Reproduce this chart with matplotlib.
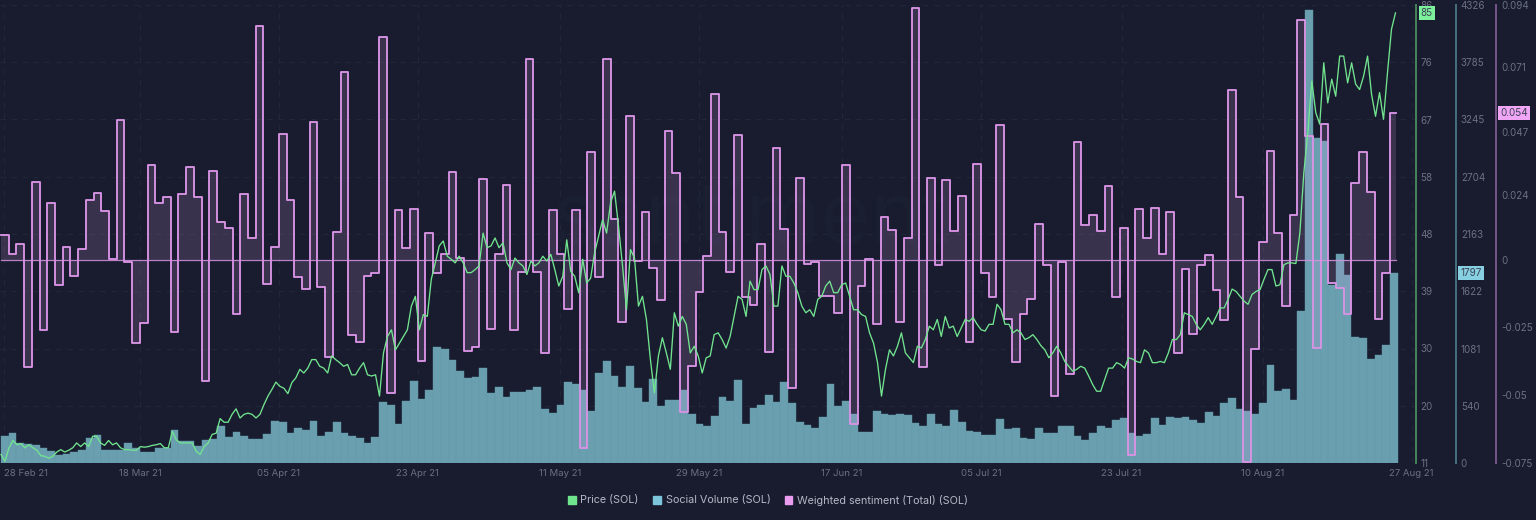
import numpy as np
import matplotlib
matplotlib.use("Agg")
import matplotlib.pyplot as plt
from matplotlib.patches import Patch

plt.rcParams["font.family"] = ["Inter", "DejaVu Sans"]

# daily values, 28 Feb 21 -> 27 Aug 21
sentiment = [
    0.0092, 0.0021, 0.0058, -0.0397, 0.0288, -0.0261, 0.0210, -0.0095, 0.0047, -0.0060,
    0.0038, 0.0219, 0.0246, 0.0179, 0.0001, 0.0514, -0.0009, -0.0306, -0.0235, 0.0351,
    0.0210, 0.0230, -0.0267, 0.0241, 0.0344, 0.0230, -0.0449, 0.0327, 0.0141, 0.0117,
    -0.0200, 0.0241, 0.0079, 0.0862, -0.0091, 0.0048, 0.0465, 0.0219, -0.0065, -0.0108,
    0.0509, -0.0101, -0.0359, 0.0104, 0.0691, -0.0279, -0.0305, -0.0059, -0.0049, 0.0823,
    -0.0493, 0.0184, 0.0045, 0.0188, -0.0372, 0.0098, -0.0049, 0.0020, 0.0323, 0.0005,
    -0.0338, -0.0322, 0.0297, -0.0257, 0.0023, 0.0275, -0.0261, -0.0047, 0.0741, -0.0047,
    -0.0345, 0.0184, 0.0021, -0.0182, 0.0184, -0.0694, 0.0397, -0.0063, 0.0739, 0.0151,
    -0.0231, 0.0530, -0.0004, 0.0177, -0.0029, -0.0150, 0.0474, 0.0320, -0.0562, -0.0393,
    -0.0120, 0.0015, 0.0611, 0.0104, -0.0047, 0.0461, -0.0139, -0.0167, 0.0057, -0.0339,
    0.0412, 0.0113, -0.0473, 0.0301, -0.0016, -0.0009, -0.0133, -0.0133, -0.0197, 0.0348,
    -0.0606, -0.0098, 0.0004, -0.0236, 0.0157, 0.0109, -0.0229, 0.0079, 0.0929, -0.0396,
    0.0300, -0.0020, 0.0293, 0.0107, 0.0236, -0.0302, 0.0354, -0.0049, -0.0139, 0.0499,
    -0.0219, -0.0376, -0.0202, -0.0144, 0.0133, -0.0021, -0.0504, -0.0010, -0.0422, 0.0434,
    0.0128, 0.0166, 0.0107, 0.0273, -0.0138, 0.0116, -0.0719, 0.0189, 0.0081, 0.0190,
    0.0023, 0.0178, -0.0344, -0.0034, -0.0273, -0.0021, 0.0017, -0.0112, -0.0224, 0.0626,
    0.0230, -0.0745, -0.0331, 0.0064, 0.0403, 0.0098, -0.0170, 0.0166, 0.0886, 0.0456,
    -0.0326, 0.0501, -0.0086, -0.0104, -0.0199, 0.0285, 0.0396, 0.0249, -0.0218, -0.0048,
    0.0541,
]

volume = [
    258, 283, 189, 179, 173, 142, 110, 79, 88, 107,
    126, 239, 264, 120, 120, 126, 186, 142, 104, 104,
    142, 142, 315, 204, 204, 164, 220, 227, 352, 245,
    296, 252, 227, 230, 277, 393, 387, 283, 327, 315,
    400, 258, 293, 384, 283, 252, 236, 186, 249, 579,
    544, 365, 582, 774, 601, 689, 1098, 1076, 975, 871,
    805, 812, 893, 658, 717, 626, 673, 673, 686, 714,
    510, 472, 547, 761, 746, 689, 491, 853, 960, 818,
    714, 919, 711, 576, 793, 538, 595, 598, 689, 459,
    368, 349, 447, 623, 585, 787, 368, 516, 544, 642,
    576, 768, 563, 387, 359, 333, 437, 746, 541, 582,
    466, 296, 296, 491, 466, 453, 466, 453, 378, 349,
    459, 365, 349, 500, 390, 305, 296, 267, 267, 412,
    318, 327, 239, 230, 330, 283, 283, 352, 352, 255,
    217, 283, 346, 327, 409, 428, 283, 252, 274, 425,
    359, 434, 428, 431, 403, 378, 481, 444, 563, 613,
    507, 494, 462, 563, 928, 676, 698, 598, 1438, 4279,
    3067, 3042, 1683, 1973, 1778, 1189, 1177, 978, 1019, 1117,
    1797,
]

# price read about every half day along the same span
price = [
    12.4, 11.3, 13.5, 14.7, 14.0, 14.2, 13.5, 14.0, 13.5, 13.1, 12.2, 12.1, 11.8, 12.1, 12.8, 13.2,
    12.8, 13.1, 13.5, 14.3, 13.7, 14.3, 13.7, 15.4, 15.4, 14.3, 13.9, 14.7, 14.0, 14.3, 13.5, 13.2,
    13.2, 13.1, 13.1, 13.7, 13.6, 13.7, 13.9, 14.0, 14.2, 13.5, 13.5, 16.2, 14.8, 14.3, 14.3, 14.3,
    14.3, 12.9, 12.4, 13.7, 14.3, 15.7, 15.9, 18.3, 17.7, 17.7, 19.0, 19.9, 18.4, 19.0, 19.2, 19.0,
    18.4, 19.0, 20.6, 22.0, 23.1, 24.3, 23.6, 23.3, 22.4, 24.2, 25.0, 26.4, 25.8, 26.6, 28.0, 28.0,
    26.9, 26.6, 25.8, 28.6, 28.0, 27.5, 26.9, 27.2, 25.5, 25.5, 26.6, 27.5, 25.5, 25.3, 25.5, 22.0,
    29.1, 31.8, 32.9, 29.6, 30.7, 31.8, 32.9, 36.8, 38.4, 32.9, 35.4, 35.1, 41.2, 43.9, 46.7, 47.5,
    45.0, 44.5, 43.9, 45.0, 43.9, 42.3, 42.3, 42.8, 43.4, 48.8, 46.4, 46.7, 48.0, 46.4, 47.2, 43.9,
    42.8, 44.7, 43.9, 43.4, 42.0, 44.2, 43.4, 43.9, 45.0, 44.2, 45.3, 42.8, 40.1, 41.7, 47.7, 42.5,
    41.7, 39.0, 44.5, 40.6, 41.4, 45.6, 48.3, 51.0, 48.8, 53.8, 55.7, 49.9, 43.4, 36.2, 46.1, 44.7,
    36.8, 38.4, 34.6, 28.0, 22.5, 28.6, 31.6, 29.1, 26.4, 35.7, 33.5, 35.1, 33.8, 29.1, 30.2, 28.6,
    25.8, 28.3, 28.6, 32.1, 32.4, 31.3, 29.9, 31.8, 35.1, 38.4, 37.9, 35.1, 40.9, 39.5, 39.5, 42.8,
    43.4, 42.0, 36.8, 36.8, 43.4, 41.7, 41.7, 40.6, 39.0, 36.8, 35.7, 36.2, 35.1, 37.9, 38.4, 40.1,
    40.9, 39.0, 39.0, 40.3, 40.6, 38.4, 36.2, 36.2, 35.4, 35.1, 32.4, 30.7, 27.5, 22.0, 26.4, 29.6,
    28.6, 30.2, 32.4, 29.1, 28.3, 27.5, 30.2, 29.9, 31.3, 33.5, 32.9, 34.6, 31.8, 35.1, 33.2, 33.5,
    31.8, 33.2, 34.6, 34.3, 34.9, 33.8, 32.9, 32.7, 33.8, 33.8, 37.1, 36.2, 33.8, 33.8, 32.4, 32.9,
    32.4, 31.3, 31.6, 32.1, 31.3, 30.3, 29.6, 28.3, 29.1, 30.2, 29.1, 27.7, 26.9, 26.1, 26.4, 26.9,
    26.6, 25.3, 23.9, 22.8, 22.8, 24.7, 26.6, 26.6, 27.5, 27.2, 26.6, 28.3, 28.1, 27.7, 27.5, 29.6,
    29.1, 27.5, 27.5, 27.7, 27.5, 29.1, 31.3, 31.3, 32.1, 35.7, 35.4, 35.1, 33.8, 32.9, 33.8, 34.9,
    33.8, 35.1, 36.5, 36.5, 37.9, 39.6, 39.2, 38.4, 37.6, 37.1, 38.7, 39.2, 39.5, 41.2, 42.8, 42.8,
    40.1, 40.3, 43.6, 43.9, 43.9, 43.8, 48.8, 58.7, 65.3, 73.8, 68.6, 66.7, 76.8, 70.2, 74.1, 71.3,
    77.9, 77.9, 73.5, 76.8, 73.3, 72.4, 74.6, 77.9, 71.6, 68.0, 71.9, 67.5, 75.2, 82.3, 85.0,
]

date_labels = ["28 Feb 21", "18 Mar 21", "05 Apr 21", "23 Apr 21", "11 May 21", "29 May 21",
               "17 Jun 21", "05 Jul 21", "23 Jul 21", "10 Aug 21", "27 Aug 21"]
date_days = [0.4, 18, 36, 54, 72.5, 90.5, 109, 127, 145.2, 163.5, 182.8]
price_tick_labels = ["11", "20", "30", "39", "48", "58", "67", "76", "86"]
volume_ticks = [0, 540, 1081, 1622, 2163, 2704, 3245, 3785, 4326]
sentiment_ticks = [-0.075, -0.05, -0.025, 0, 0.024, 0.047, 0.071, 0.094]
sentiment_tick_labels = ["-0.075", "-0.05", "-0.025", "0", "0.024", "0.047", "0.071", "0.094"]

BG = "#181c2e"
GRID = "#222738"
TICK = "#6b7082"
GREEN = "#72e48f"
TEAL = "#6a9fb0"
PINK = "#d893e4"

W, H = 1536, 520
fig = plt.figure(figsize=(W / 100, H / 100), dpi=100, facecolor=BG)
ax = fig.add_axes([0, (H - 463) / H, 1415.5 / W, 458 / H], facecolor=BG)
ax_s = ax.twinx()
ax_p = ax.twinx()

days = np.arange(len(volume))
px_day = 7.717

# volume bars
ax.bar(days + 0.5, volume, width=1.0, color=TEAL, edgecolor="#639aab", linewidth=0.3, zorder=2)
ax.set_ylim(0, 4326)
ax.set_xlim(-1 / px_day, 1414.5 / px_day)
ax.set_xticks(date_days)
ax.set_xticklabels(date_labels)
ax.tick_params(axis="x", length=0, pad=4, labelsize=6.9, colors=TICK)
ax.get_xticklabels()[0].set_ha("left")
ax.set_yticks(volume_ticks)
ax.grid(color=GRID, linewidth=0.8, linestyle=(0, (5, 5)), zorder=0)
ax.set_axisbelow(True)
ax.yaxis.tick_right()
ax.tick_params(axis="y", length=0, pad=3.6, labelsize=7.1, colors=TICK)
ax.spines["right"].set_position(("outward", 29))
ax.spines["right"].set_color("#46707f")
ax.spines["right"].set_linewidth(1.4)
for s in ["top", "left", "bottom"]:
    ax.spines[s].set_visible(False)

ax.text(0.53, 0.53, "santiment", transform=ax.transAxes, ha="center", va="center",
        fontsize=62, color="#1b1f32", zorder=1)

# sentiment steps
sx = np.append(days, days[-1] + 0.8)
sy = np.append(sentiment, sentiment[-1])
ax_s.fill_between(sx, sy, 0, step="post", color="#d9a0e8", alpha=0.17, linewidth=0, zorder=2)
ax_s.step(sx, sy, where="post", color=PINK, linewidth=1.35, zorder=3)
ax_s.plot([0, sx[-1]], [0, 0], color=PINK, linewidth=0.9, alpha=0.85, zorder=3)
ax_s.set_ylim(-0.075, 0.094)
ax_s.set_yticks(sentiment_ticks)
ax_s.set_yticklabels(sentiment_tick_labels)
ax_s.tick_params(axis="y", length=0, pad=3.6, labelsize=7.1, colors=TICK)
ax_s.spines["right"].set_position(("outward", 58))
ax_s.spines["right"].set_color("#7a5487")
ax_s.spines["right"].set_linewidth(1.4)

# price line
price_x = np.linspace(0, days[-1] + 0.7, len(price))
ax_p.plot(price_x, price, color=GREEN, linewidth=0.95, zorder=4)
ax_p.set_ylim(11, 86.3)
ax_p.set_yticks(np.linspace(11, 86.3, 9))
ax_p.set_yticklabels(price_tick_labels)
ax_p.tick_params(axis="y", length=0, pad=3.6, labelsize=7.1, colors=TICK)
ax_p.spines["right"].set_color("#47855c")
ax_p.spines["right"].set_linewidth(1.4)

for a in [ax_s, ax_p]:
    for s in ["top", "left", "bottom"]:
        a.spines[s].set_visible(False)
    a.patch.set_visible(False)

# last value tags
tag_font = dict(fontsize=7.1, color="#3c4256", va="center", ha="left", zorder=10,
                annotation_clip=False, xycoords=("axes fraction", "data"),
                textcoords="offset points")
ax_p.annotate("85", xy=(1, 85), xytext=(3.8, 0),
              bbox=dict(boxstyle="square,pad=0.22", fc="#7df09b", ec="none"), **tag_font)
ax.annotate("1797", xy=(1, volume[-1]), xytext=(32.5, 0),
            bbox=dict(boxstyle="square,pad=0.22", fc="#86d0e2", ec="none"), **tag_font)
ax_s.annotate("0.054", xy=(1, sentiment[-1]), xytext=(61, 0),
              bbox=dict(boxstyle="square,pad=0.22", fc="#f0a6f4", ec="none"), **tag_font)

handles = [Patch(color="#6fe58d", label="Price (SOL)"),
           Patch(color="#7cc5da", label="Social Volume (SOL)"),
           Patch(color="#ea9cf0", label="Weighted sentiment (Total) (SOL)")]
fig.legend(handles=handles, loc="center", bbox_to_anchor=(0.5, 1 - 500 / H), ncol=3, frameon=False,
           fontsize=7.8, labelcolor="#b4b8c6", handlelength=0.72, handleheight=0.72,
           handletextpad=0.45, columnspacing=1.3)

fig.savefig("out.png", dpi=100, facecolor=BG)
